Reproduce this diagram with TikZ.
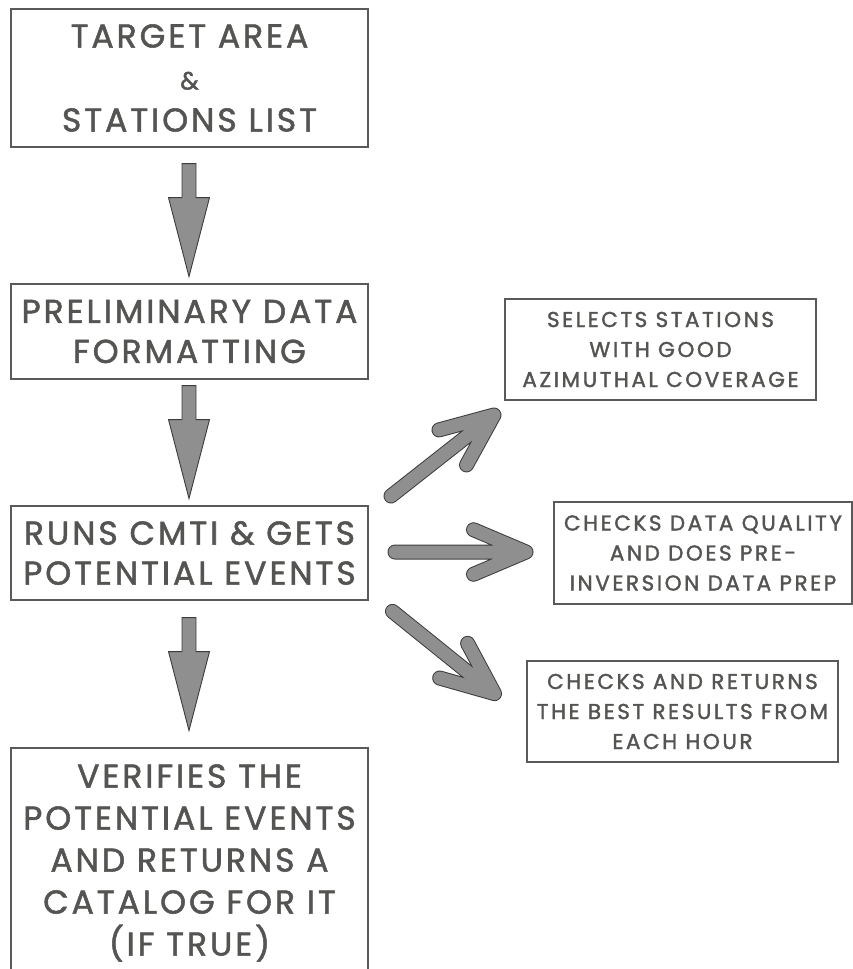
\documentclass[tikz,border=0pt]{standalone}
\usepackage{fontspec}
\setmainfont{Poppins}[FakeBold=1.6]
\usetikzlibrary{calc}
\definecolor{txt}{RGB}{84,84,82}
\definecolor{edge}{RGB}{90,90,90}
\definecolor{arrfill}{RGB}{143,143,143}
\definecolor{arredge}{RGB}{60,60,60}
\begin{document}
\begin{tikzpicture}[x=1pt,y=-1pt,
  box/.style={draw=edge,line width=1.2pt,inner sep=0pt,align=center,text=txt},
  bigbox/.style={box,minimum width=357pt},
  bigfont/.style={font=\fontsize{33}{#1}\selectfont\addfontfeatures{LetterSpace=9}},
  smallbox/.style={box,font=\fontsize{21.5}{30}\selectfont\addfontfeatures{LetterSpace=12}},
  blockarr/.style={fill=arrfill,draw=arredge,line width=0.9pt,line join=miter},
  fatout/.style={draw=arredge,line width=15pt,line cap=round,line join=round},
  fatin/.style={draw=arrfill,line width=13pt,line cap=round,line join=round}]

\useasboundingbox (0,0) rectangle (853,969);
\clip (0,0) rectangle (853,969);

% main column
\node[bigbox,bigfont=42,minimum height=138pt] (b1) at (189.5,78)
  {TARGET AREA\\{\fontsize{25}{42}\selectfont\&}\\STATIONS LIST};
\node[bigbox,bigfont=40,minimum height=95pt] (b2) at (189.5,331.5)
  {PRELIMINARY DATA\\FORMATTING};
\node[bigbox,bigfont=40,minimum height=94pt] (b3) at (189.5,553)
  {RUNS CMTI \& GETS\\POTENTIAL EVENTS};
\node[bigbox,bigfont=42,minimum height=230pt] (b4) at (189.5,863)
  {VERIFIES THE\\POTENTIAL EVENTS\\AND RETURNS A\\CATALOG FOR IT\\(IF TRUE)};

% side boxes
\node[smallbox,minimum width=311pt,minimum height=101pt] (sa) at (660.5,349.5)
  {SELECTS STATIONS\\WITH GOOD\\AZIMUTHAL COVERAGE};
\node[smallbox,minimum width=298pt,minimum height=102pt] (sb) at (703,553)
  {CHECKS DATA QUALITY\\AND DOES PRE-\\INVERSION DATA PREP};
\node[smallbox,minimum width=311pt,minimum height=101pt] (sc) at (682.5,711.5)
  {CHECKS AND RETURNS\\THE BEST RESULTS FROM\\EACH HOUR};

% vertical block arrows
\foreach \from/\gap in {b1/16, b2/6, b3/17}{
  \coordinate (top) at ($(\from.south)+(-0.5,\gap)$);
  \draw[blockarr] ($(top)+(-7,0)$) -- ++(0,34) -- ++(-13.5,0)
     -- ($(top)+(0,113)$) -- ($(top)+(20.5,34)$) -- ++(-13.5,0)
     -- ($(top)+(7,0)$) -- cycle;
}

% fat arrows from b3 to side boxes
\coordinate (ne-t) at (391,496);   \coordinate (ne-h) at (494,415);
\coordinate (r-t)  at (395,552);   \coordinate (r-h)  at (526,552);
\coordinate (se-t) at (392.5,611.4); \coordinate (se-h) at (494.5,693.6);
\foreach \a in {ne,r,se}{
  \coordinate (\a-b1) at ($(\a-h)!57pt!23:(\a-t)$);
  \coordinate (\a-b2) at ($(\a-h)!57pt!-23:(\a-t)$);
  \draw[fatout] (\a-t) -- (\a-h) (\a-b1) -- (\a-h) -- (\a-b2);
  \draw[fatin]  (\a-t) -- (\a-h) (\a-b1) -- (\a-h) -- (\a-b2);
}
\end{tikzpicture}
\end{document}
